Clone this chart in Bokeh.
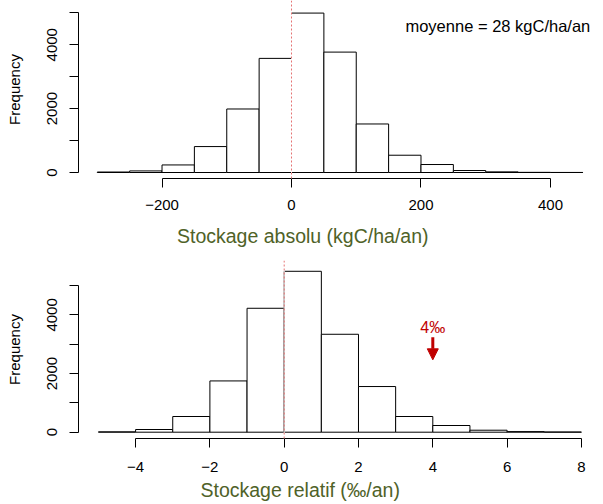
from bokeh.plotting import figure
from bokeh.layouts import column
from bokeh.models import Range1d, FixedTicker, Span, Label, Arrow, NormalHead, Title
from bokeh.embed import file_html
from bokeh.resources import INLINE

# ---- data -------------------------------------------------------------
# Top: absolute storage (kgC/ha/an), bins of 50
abs_edges = [-300, -250, -200, -150, -100, -50, 0, 50, 100, 150, 200, 250, 300, 350, 400, 450]
abs_counts = [15, 50, 237, 812, 1988, 3572, 4990, 3769, 1519, 541, 250, 62, 20, 5, 2]
abs_ticks = [-200, 0, 200, 400]
abs_tick_labels = ["\u2212200", "0", "200", "400"]
abs_mean = 28

# Bottom: relative storage (per mille / an), bins of 1
rel_edges = [-5, -4, -3, -2, -1, 0, 1, 2, 3, 4, 5, 6, 7, 8]
rel_counts = [12, 92, 535, 1748, 4225, 5486, 3339, 1557, 535, 228, 68, 20, 6]
rel_ticks = [-4, -2, 0, 2, 4, 6, 8]
rel_tick_labels = ["\u22124", "\u22122", "0", "2", "4", "6", "8"]
target_rel = 4  # "4 pour mille"

freq_ticks = [0, 1000, 2000, 3000, 4000, 5000]
freq_tick_labels = ["0", "", "2000", "", "4000", ""]

FONT = "Liberation Sans"
GREEN = "#4F6228"
RED = "#C00000"


def make_hist(edges, counts, xr, yr, height, mb_bottom, xticks, xlabels,
              xlabel, xlabel_offset, xlabel_standoff, xlab_standoff):
    p = figure(width=603, height=height, x_range=Range1d(*xr), y_range=Range1d(*yr),
               output_backend="svg", toolbar_location=None,
               min_border_left=78, min_border_right=0, min_border_top=0,
               min_border_bottom=mb_bottom)
    p.outline_line_color = None
    p.grid.visible = False
    p.quad(left=edges[:-1], right=edges[1:], bottom=0, top=counts,
           fill_color="white", line_color="black", line_width=1)
    p.add_layout(Span(location=0, dimension="height", line_color="white",
                      line_width=1))
    p.add_layout(Span(location=0, dimension="height", line_color="#E57373",
                      line_dash="2 2", line_width=1))

    xa = p.xaxis[0]
    xa.ticker = FixedTicker(ticks=xticks, minor_ticks=[])
    xa.major_label_overrides = dict(zip(xticks, xlabels))
    xa.bounds = (xticks[0], xticks[-1])
    ya = p.yaxis[0]
    ya.ticker = FixedTicker(ticks=freq_ticks, minor_ticks=[])
    ya.major_label_overrides = dict(zip(freq_ticks, freq_tick_labels))
    ya.bounds = (freq_ticks[0], freq_ticks[-1])
    ya.major_label_orientation = "vertical"
    ya.axis_label = "Frequency"
    ya.axis_label_standoff = 22
    for ax in (xa, ya):
        ax.axis_line_color = "black"
        ax.major_tick_line_color = "black"
        ax.major_tick_out = 9
        ax.major_tick_in = 0
        ax.minor_tick_out = 0
        ax.minor_tick_in = 0
        ax.major_label_text_font = FONT
        ax.major_label_text_font_size = "15px"
        ax.major_label_text_color = "black"
        ax.axis_label_text_font = FONT
        ax.axis_label_text_font_size = "15px"
        ax.axis_label_text_font_style = "normal"
        ax.axis_label_text_color = "black"
    xa.major_label_standoff = xlab_standoff
    ya.major_label_standoff = 12

    p.add_layout(Title(text=xlabel, align="left", offset=xlabel_offset,
                       standoff=xlabel_standoff,
                       text_font=FONT, text_font_size="19.5px", text_font_style="normal",
                       text_color=GREEN), "below")
    return p


p1 = make_hist(abs_edges, abs_counts, (-329, 481.9), (-187.5, 5384), 260, 82,
               abs_ticks, abs_tick_labels, "Stockage absolu (kgC/ha/an)", 98.5, 21, 12)
p1.add_layout(Label(x=176, y=4575, text=f"moyenne = {abs_mean} kgC/ha/an",
                    text_font=FONT, text_font_size="16.5px", text_color="black",
                    text_baseline="alphabetic", text_align="left"))

p2 = make_hist(rel_edges, rel_counts, (-5.537, 8.595), (-214.8, 5854), 244, 66,
               rel_ticks, rel_tick_labels, "Stockage relatif (\u2030/an)", 122, 4, 14)
p2.add_layout(Label(x=target_rel, y=3560, text=f"{target_rel}\u2030",
                    text_font=FONT, text_font_size="16px", text_color=RED,
                    text_baseline="alphabetic", text_align="center"))
p2.add_layout(Arrow(x_start=target_rel, y_start=3239, x_end=target_rel, y_end=2468,
                    line_color=RED, line_width=3,
                    end=NormalHead(size=11, fill_color=RED, line_color=RED, line_width=1)))

layout = column(p1, p2, spacing=0)
open("out.html", "w").write(file_html(layout, INLINE))
